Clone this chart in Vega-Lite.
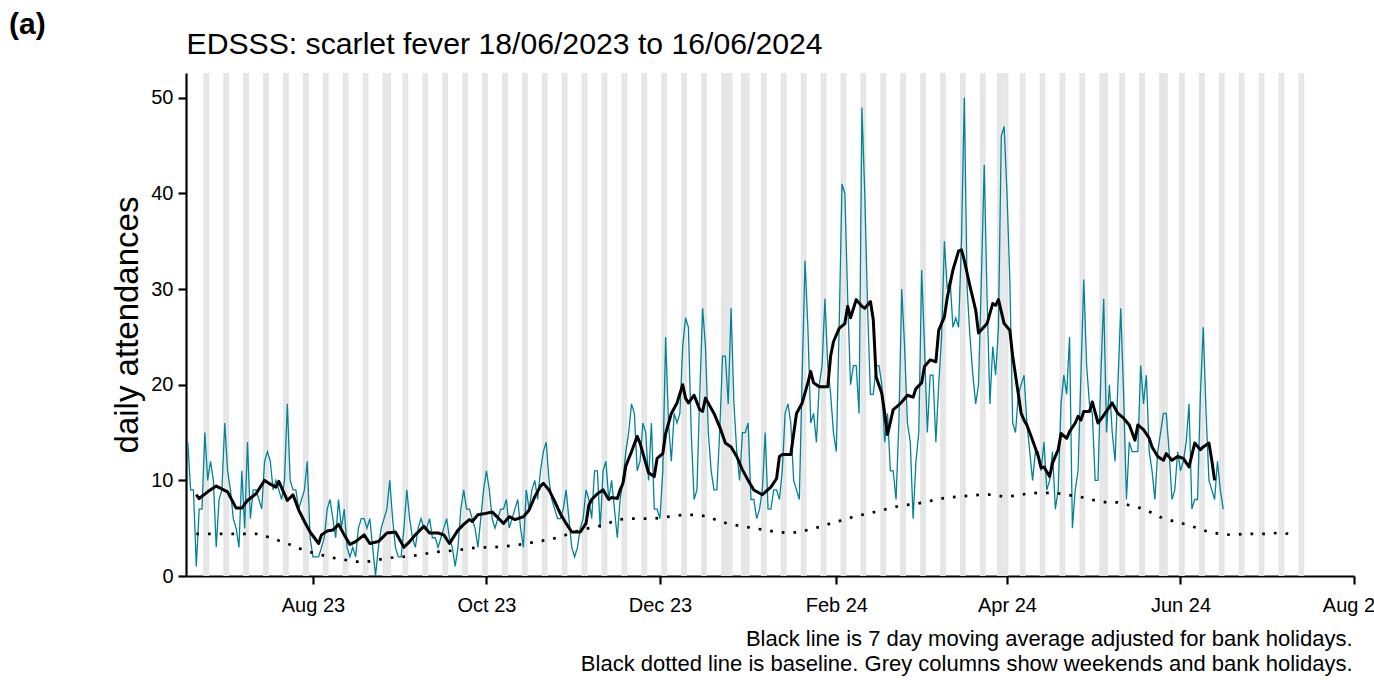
{
  "$schema": "https://vega.github.io/schema/vega-lite/v6.json",
  "width": 1168,
  "height": 503,
  "autosize": {"type": "none"},
  "padding": {"left": 186, "top": 73, "right": 20, "bottom": 104},
  "background": "white",
  "config": {
    "view": {"stroke": null},
    "font": "Liberation Sans",
    "axis": {"grid": false, "labelFont": "Liberation Sans", "titleFont": "Liberation Sans"}
  },
  "title": {
    "text": "(a)",
    "anchor": "start",
    "frame": "group",
    "font": "Liberation Sans",
    "fontSize": 30,
    "fontWeight": "bold",
    "color": "black",
    "baseline": "alphabetic",
    "dx": -177,
    "offset": -35
  },
  "datasets": {
    "raw": [
      {"date": "2023-06-18", "n": 14}, {"date": "2023-06-19", "n": 9}, {"date": "2023-06-20", "n": 9}, {"date": "2023-06-21", "n": 1}, {"date": "2023-06-22", "n": 7}, {"date": "2023-06-23", "n": 7}, {"date": "2023-06-24", "n": 15}, {"date": "2023-06-25", "n": 10}, {"date": "2023-06-26", "n": 12}, {"date": "2023-06-27", "n": 10}, {"date": "2023-06-28", "n": 3}, {"date": "2023-06-29", "n": 8}, {"date": "2023-06-30", "n": 9},
      {"date": "2023-07-01", "n": 16}, {"date": "2023-07-02", "n": 11}, {"date": "2023-07-03", "n": 9}, {"date": "2023-07-04", "n": 6}, {"date": "2023-07-05", "n": 5}, {"date": "2023-07-06", "n": 3}, {"date": "2023-07-07", "n": 11}, {"date": "2023-07-08", "n": 5}, {"date": "2023-07-09", "n": 14}, {"date": "2023-07-10", "n": 6}, {"date": "2023-07-11", "n": 9}, {"date": "2023-07-12", "n": 9}, {"date": "2023-07-13", "n": 8}, {"date": "2023-07-14", "n": 7}, {"date": "2023-07-15", "n": 12}, {"date": "2023-07-16", "n": 13}, {"date": "2023-07-17", "n": 12}, {"date": "2023-07-18", "n": 9}, {"date": "2023-07-19", "n": 10}, {"date": "2023-07-20", "n": 9}, {"date": "2023-07-21", "n": 8}, {"date": "2023-07-22", "n": 10}, {"date": "2023-07-23", "n": 18}, {"date": "2023-07-24", "n": 10}, {"date": "2023-07-25", "n": 9}, {"date": "2023-07-26", "n": 9}, {"date": "2023-07-27", "n": 7}, {"date": "2023-07-28", "n": 8}, {"date": "2023-07-29", "n": 9}, {"date": "2023-07-30", "n": 12}, {"date": "2023-07-31", "n": 4},
      {"date": "2023-08-01", "n": 2}, {"date": "2023-08-02", "n": 2}, {"date": "2023-08-03", "n": 2}, {"date": "2023-08-04", "n": 3}, {"date": "2023-08-05", "n": 4}, {"date": "2023-08-06", "n": 7}, {"date": "2023-08-07", "n": 8}, {"date": "2023-08-08", "n": 6}, {"date": "2023-08-09", "n": 4}, {"date": "2023-08-10", "n": 8}, {"date": "2023-08-11", "n": 5}, {"date": "2023-08-12", "n": 7}, {"date": "2023-08-13", "n": 3}, {"date": "2023-08-14", "n": 2}, {"date": "2023-08-15", "n": 3}, {"date": "2023-08-16", "n": 2}, {"date": "2023-08-17", "n": 5}, {"date": "2023-08-18", "n": 6}, {"date": "2023-08-19", "n": 6}, {"date": "2023-08-20", "n": 5}, {"date": "2023-08-21", "n": 6}, {"date": "2023-08-22", "n": 3}, {"date": "2023-08-23", "n": 0}, {"date": "2023-08-24", "n": 3}, {"date": "2023-08-25", "n": 5}, {"date": "2023-08-26", "n": 6}, {"date": "2023-08-27", "n": 7}, {"date": "2023-08-28", "n": 10}, {"date": "2023-08-29", "n": 6}, {"date": "2023-08-30", "n": 3}, {"date": "2023-08-31", "n": 2},
      {"date": "2023-09-01", "n": 2}, {"date": "2023-09-02", "n": 5}, {"date": "2023-09-03", "n": 9}, {"date": "2023-09-04", "n": 6}, {"date": "2023-09-05", "n": 4}, {"date": "2023-09-06", "n": 3}, {"date": "2023-09-07", "n": 5}, {"date": "2023-09-08", "n": 6}, {"date": "2023-09-09", "n": 5}, {"date": "2023-09-10", "n": 5}, {"date": "2023-09-11", "n": 6}, {"date": "2023-09-12", "n": 4}, {"date": "2023-09-13", "n": 4}, {"date": "2023-09-14", "n": 3}, {"date": "2023-09-15", "n": 4}, {"date": "2023-09-16", "n": 5}, {"date": "2023-09-17", "n": 6}, {"date": "2023-09-18", "n": 4}, {"date": "2023-09-19", "n": 3}, {"date": "2023-09-20", "n": 1}, {"date": "2023-09-21", "n": 3}, {"date": "2023-09-22", "n": 7}, {"date": "2023-09-23", "n": 9}, {"date": "2023-09-24", "n": 7}, {"date": "2023-09-25", "n": 7}, {"date": "2023-09-26", "n": 6}, {"date": "2023-09-27", "n": 5}, {"date": "2023-09-28", "n": 3}, {"date": "2023-09-29", "n": 6}, {"date": "2023-09-30", "n": 9},
      {"date": "2023-10-01", "n": 11}, {"date": "2023-10-02", "n": 9}, {"date": "2023-10-03", "n": 6}, {"date": "2023-10-04", "n": 5}, {"date": "2023-10-05", "n": 6}, {"date": "2023-10-06", "n": 7}, {"date": "2023-10-07", "n": 7}, {"date": "2023-10-08", "n": 8}, {"date": "2023-10-09", "n": 5}, {"date": "2023-10-10", "n": 6}, {"date": "2023-10-11", "n": 7}, {"date": "2023-10-12", "n": 8}, {"date": "2023-10-13", "n": 5}, {"date": "2023-10-14", "n": 3}, {"date": "2023-10-15", "n": 9}, {"date": "2023-10-16", "n": 7}, {"date": "2023-10-17", "n": 9}, {"date": "2023-10-18", "n": 10}, {"date": "2023-10-19", "n": 8}, {"date": "2023-10-20", "n": 11}, {"date": "2023-10-21", "n": 13}, {"date": "2023-10-22", "n": 14}, {"date": "2023-10-23", "n": 10}, {"date": "2023-10-24", "n": 8}, {"date": "2023-10-25", "n": 7}, {"date": "2023-10-26", "n": 6}, {"date": "2023-10-27", "n": 6}, {"date": "2023-10-28", "n": 7}, {"date": "2023-10-29", "n": 9}, {"date": "2023-10-30", "n": 6}, {"date": "2023-10-31", "n": 3},
      {"date": "2023-11-01", "n": 2}, {"date": "2023-11-02", "n": 3}, {"date": "2023-11-03", "n": 5}, {"date": "2023-11-04", "n": 6}, {"date": "2023-11-05", "n": 9}, {"date": "2023-11-06", "n": 8}, {"date": "2023-11-07", "n": 6}, {"date": "2023-11-08", "n": 11}, {"date": "2023-11-09", "n": 11}, {"date": "2023-11-10", "n": 5}, {"date": "2023-11-11", "n": 11}, {"date": "2023-11-12", "n": 12}, {"date": "2023-11-13", "n": 8}, {"date": "2023-11-14", "n": 10}, {"date": "2023-11-15", "n": 7}, {"date": "2023-11-16", "n": 4}, {"date": "2023-11-17", "n": 8}, {"date": "2023-11-18", "n": 10}, {"date": "2023-11-19", "n": 13}, {"date": "2023-11-20", "n": 15}, {"date": "2023-11-21", "n": 18}, {"date": "2023-11-22", "n": 17}, {"date": "2023-11-23", "n": 11}, {"date": "2023-11-24", "n": 12}, {"date": "2023-11-25", "n": 16}, {"date": "2023-11-26", "n": 15}, {"date": "2023-11-27", "n": 10}, {"date": "2023-11-28", "n": 16}, {"date": "2023-11-29", "n": 7}, {"date": "2023-11-30", "n": 7},
      {"date": "2023-12-01", "n": 6}, {"date": "2023-12-02", "n": 11}, {"date": "2023-12-03", "n": 25}, {"date": "2023-12-04", "n": 16}, {"date": "2023-12-05", "n": 12}, {"date": "2023-12-06", "n": 17}, {"date": "2023-12-07", "n": 16}, {"date": "2023-12-08", "n": 17}, {"date": "2023-12-09", "n": 24}, {"date": "2023-12-10", "n": 27}, {"date": "2023-12-11", "n": 26}, {"date": "2023-12-12", "n": 15}, {"date": "2023-12-13", "n": 8}, {"date": "2023-12-14", "n": 9}, {"date": "2023-12-15", "n": 19}, {"date": "2023-12-16", "n": 28}, {"date": "2023-12-17", "n": 24}, {"date": "2023-12-18", "n": 15}, {"date": "2023-12-19", "n": 11}, {"date": "2023-12-20", "n": 9}, {"date": "2023-12-21", "n": 9}, {"date": "2023-12-22", "n": 15}, {"date": "2023-12-23", "n": 23}, {"date": "2023-12-24", "n": 23}, {"date": "2023-12-25", "n": 18}, {"date": "2023-12-26", "n": 28}, {"date": "2023-12-27", "n": 18}, {"date": "2023-12-28", "n": 13}, {"date": "2023-12-29", "n": 10}, {"date": "2023-12-30", "n": 15}, {"date": "2023-12-31", "n": 15},
      {"date": "2024-01-01", "n": 16}, {"date": "2024-01-02", "n": 8}, {"date": "2024-01-03", "n": 8}, {"date": "2024-01-04", "n": 6}, {"date": "2024-01-05", "n": 7}, {"date": "2024-01-06", "n": 9}, {"date": "2024-01-07", "n": 15}, {"date": "2024-01-08", "n": 7}, {"date": "2024-01-09", "n": 7}, {"date": "2024-01-10", "n": 9}, {"date": "2024-01-11", "n": 9}, {"date": "2024-01-12", "n": 8}, {"date": "2024-01-13", "n": 11}, {"date": "2024-01-14", "n": 17}, {"date": "2024-01-15", "n": 18}, {"date": "2024-01-16", "n": 16}, {"date": "2024-01-17", "n": 10}, {"date": "2024-01-18", "n": 9}, {"date": "2024-01-19", "n": 8}, {"date": "2024-01-20", "n": 21}, {"date": "2024-01-21", "n": 33}, {"date": "2024-01-22", "n": 26}, {"date": "2024-01-23", "n": 16}, {"date": "2024-01-24", "n": 17}, {"date": "2024-01-25", "n": 14}, {"date": "2024-01-26", "n": 20}, {"date": "2024-01-27", "n": 22}, {"date": "2024-01-28", "n": 29}, {"date": "2024-01-29", "n": 22}, {"date": "2024-01-30", "n": 19}, {"date": "2024-01-31", "n": 15},
      {"date": "2024-02-01", "n": 13}, {"date": "2024-02-02", "n": 26}, {"date": "2024-02-03", "n": 41}, {"date": "2024-02-04", "n": 40}, {"date": "2024-02-05", "n": 29}, {"date": "2024-02-06", "n": 20}, {"date": "2024-02-07", "n": 22}, {"date": "2024-02-08", "n": 22}, {"date": "2024-02-09", "n": 17}, {"date": "2024-02-10", "n": 49}, {"date": "2024-02-11", "n": 40}, {"date": "2024-02-12", "n": 28}, {"date": "2024-02-13", "n": 19}, {"date": "2024-02-14", "n": 19}, {"date": "2024-02-15", "n": 22}, {"date": "2024-02-16", "n": 22}, {"date": "2024-02-17", "n": 20}, {"date": "2024-02-18", "n": 14}, {"date": "2024-02-19", "n": 17}, {"date": "2024-02-20", "n": 11}, {"date": "2024-02-21", "n": 11}, {"date": "2024-02-22", "n": 8}, {"date": "2024-02-23", "n": 16}, {"date": "2024-02-24", "n": 30}, {"date": "2024-02-25", "n": 24}, {"date": "2024-02-26", "n": 16}, {"date": "2024-02-27", "n": 14}, {"date": "2024-02-28", "n": 6}, {"date": "2024-02-29", "n": 12},
      {"date": "2024-03-01", "n": 15}, {"date": "2024-03-02", "n": 32}, {"date": "2024-03-03", "n": 24}, {"date": "2024-03-04", "n": 15}, {"date": "2024-03-05", "n": 21}, {"date": "2024-03-06", "n": 21}, {"date": "2024-03-07", "n": 14}, {"date": "2024-03-08", "n": 20}, {"date": "2024-03-09", "n": 25}, {"date": "2024-03-10", "n": 35}, {"date": "2024-03-11", "n": 30}, {"date": "2024-03-12", "n": 31}, {"date": "2024-03-13", "n": 26}, {"date": "2024-03-14", "n": 27}, {"date": "2024-03-15", "n": 26}, {"date": "2024-03-16", "n": 35}, {"date": "2024-03-17", "n": 50}, {"date": "2024-03-18", "n": 30}, {"date": "2024-03-19", "n": 25}, {"date": "2024-03-20", "n": 21}, {"date": "2024-03-21", "n": 18}, {"date": "2024-03-22", "n": 20}, {"date": "2024-03-23", "n": 31}, {"date": "2024-03-24", "n": 43}, {"date": "2024-03-25", "n": 29}, {"date": "2024-03-26", "n": 18}, {"date": "2024-03-27", "n": 24}, {"date": "2024-03-28", "n": 21}, {"date": "2024-03-29", "n": 26}, {"date": "2024-03-30", "n": 46}, {"date": "2024-03-31", "n": 47},
      {"date": "2024-04-01", "n": 40}, {"date": "2024-04-02", "n": 31}, {"date": "2024-04-03", "n": 16}, {"date": "2024-04-04", "n": 15}, {"date": "2024-04-05", "n": 19}, {"date": "2024-04-06", "n": 20}, {"date": "2024-04-07", "n": 21}, {"date": "2024-04-08", "n": 16}, {"date": "2024-04-09", "n": 13}, {"date": "2024-04-10", "n": 10}, {"date": "2024-04-11", "n": 13}, {"date": "2024-04-12", "n": 13}, {"date": "2024-04-13", "n": 11}, {"date": "2024-04-14", "n": 14}, {"date": "2024-04-15", "n": 9}, {"date": "2024-04-16", "n": 10}, {"date": "2024-04-17", "n": 13}, {"date": "2024-04-18", "n": 7}, {"date": "2024-04-19", "n": 9}, {"date": "2024-04-20", "n": 18}, {"date": "2024-04-21", "n": 21}, {"date": "2024-04-22", "n": 19}, {"date": "2024-04-23", "n": 25}, {"date": "2024-04-24", "n": 5}, {"date": "2024-04-25", "n": 9}, {"date": "2024-04-26", "n": 11}, {"date": "2024-04-27", "n": 21}, {"date": "2024-04-28", "n": 31}, {"date": "2024-04-29", "n": 22}, {"date": "2024-04-30", "n": 18},
      {"date": "2024-05-01", "n": 17}, {"date": "2024-05-02", "n": 10}, {"date": "2024-05-03", "n": 10}, {"date": "2024-05-04", "n": 21}, {"date": "2024-05-05", "n": 29}, {"date": "2024-05-06", "n": 15}, {"date": "2024-05-07", "n": 20}, {"date": "2024-05-08", "n": 15}, {"date": "2024-05-09", "n": 12}, {"date": "2024-05-10", "n": 20}, {"date": "2024-05-11", "n": 28}, {"date": "2024-05-12", "n": 19}, {"date": "2024-05-13", "n": 8}, {"date": "2024-05-14", "n": 14}, {"date": "2024-05-15", "n": 13}, {"date": "2024-05-16", "n": 13}, {"date": "2024-05-17", "n": 13}, {"date": "2024-05-18", "n": 22}, {"date": "2024-05-19", "n": 18}, {"date": "2024-05-20", "n": 21}, {"date": "2024-05-21", "n": 13}, {"date": "2024-05-22", "n": 11}, {"date": "2024-05-23", "n": 8}, {"date": "2024-05-24", "n": 13}, {"date": "2024-05-25", "n": 15}, {"date": "2024-05-26", "n": 17}, {"date": "2024-05-27", "n": 17}, {"date": "2024-05-28", "n": 13}, {"date": "2024-05-29", "n": 8}, {"date": "2024-05-30", "n": 9}, {"date": "2024-05-31", "n": 13},
      {"date": "2024-06-01", "n": 11}, {"date": "2024-06-02", "n": 12}, {"date": "2024-06-03", "n": 14}, {"date": "2024-06-04", "n": 18}, {"date": "2024-06-05", "n": 7}, {"date": "2024-06-06", "n": 8}, {"date": "2024-06-07", "n": 8}, {"date": "2024-06-08", "n": 19}, {"date": "2024-06-09", "n": 26}, {"date": "2024-06-10", "n": 17}, {"date": "2024-06-11", "n": 10}, {"date": "2024-06-12", "n": 9}, {"date": "2024-06-13", "n": 8}, {"date": "2024-06-14", "n": 12}, {"date": "2024-06-15", "n": 9}, {"date": "2024-06-16", "n": 7}
    ],
    "ma": [
      {"date": "2023-06-21", "ma": 8.5}, {"date": "2023-06-22", "ma": 8.1}, {"date": "2023-06-25", "ma": 8.8}, {"date": "2023-06-28", "ma": 9.4}, {"date": "2023-07-02", "ma": 8.8}, {"date": "2023-07-05", "ma": 7.1}, {"date": "2023-07-07", "ma": 7.1}, {"date": "2023-07-09", "ma": 7.9}, {"date": "2023-07-12", "ma": 8.6}, {"date": "2023-07-15", "ma": 10.0}, {"date": "2023-07-17", "ma": 9.6}, {"date": "2023-07-19", "ma": 9.3}, {"date": "2023-07-20", "ma": 9.9}, {"date": "2023-07-23", "ma": 7.9}, {"date": "2023-07-25", "ma": 8.5}, {"date": "2023-07-27", "ma": 6.9}, {"date": "2023-07-29", "ma": 5.7}, {"date": "2023-07-31", "ma": 4.6},
      {"date": "2023-08-03", "ma": 3.4}, {"date": "2023-08-04", "ma": 4.3}, {"date": "2023-08-06", "ma": 4.7}, {"date": "2023-08-08", "ma": 4.8}, {"date": "2023-08-10", "ma": 5.4}, {"date": "2023-08-12", "ma": 4.3}, {"date": "2023-08-14", "ma": 3.3}, {"date": "2023-08-16", "ma": 3.6}, {"date": "2023-08-19", "ma": 4.3}, {"date": "2023-08-21", "ma": 3.4}, {"date": "2023-08-24", "ma": 3.6}, {"date": "2023-08-27", "ma": 4.5}, {"date": "2023-08-30", "ma": 4.6},
      {"date": "2023-09-02", "ma": 3.0}, {"date": "2023-09-04", "ma": 3.6}, {"date": "2023-09-06", "ma": 4.3}, {"date": "2023-09-09", "ma": 5.2}, {"date": "2023-09-11", "ma": 4.5}, {"date": "2023-09-14", "ma": 4.5}, {"date": "2023-09-16", "ma": 4.3}, {"date": "2023-09-18", "ma": 3.4}, {"date": "2023-09-21", "ma": 4.8}, {"date": "2023-09-23", "ma": 5.4}, {"date": "2023-09-25", "ma": 5.9}, {"date": "2023-09-26", "ma": 5.7}, {"date": "2023-09-28", "ma": 6.4}, {"date": "2023-09-30", "ma": 6.5},
      {"date": "2023-10-03", "ma": 6.7}, {"date": "2023-10-07", "ma": 5.5}, {"date": "2023-10-09", "ma": 6.2}, {"date": "2023-10-11", "ma": 5.9}, {"date": "2023-10-14", "ma": 6.2}, {"date": "2023-10-16", "ma": 6.9}, {"date": "2023-10-18", "ma": 8.3}, {"date": "2023-10-20", "ma": 9.4}, {"date": "2023-10-21", "ma": 9.7}, {"date": "2023-10-23", "ma": 9.0}, {"date": "2023-10-25", "ma": 7.8}, {"date": "2023-10-27", "ma": 6.5}, {"date": "2023-10-29", "ma": 5.5}, {"date": "2023-10-31", "ma": 4.6},
      {"date": "2023-11-03", "ma": 4.6}, {"date": "2023-11-05", "ma": 5.5}, {"date": "2023-11-06", "ma": 7.4}, {"date": "2023-11-07", "ma": 8.0}, {"date": "2023-11-09", "ma": 8.6}, {"date": "2023-11-11", "ma": 9.0}, {"date": "2023-11-13", "ma": 8.0}, {"date": "2023-11-14", "ma": 8.2}, {"date": "2023-11-16", "ma": 8.1}, {"date": "2023-11-17", "ma": 9.0}, {"date": "2023-11-18", "ma": 9.7}, {"date": "2023-11-19", "ma": 11.5}, {"date": "2023-11-21", "ma": 13.0}, {"date": "2023-11-23", "ma": 14.6}, {"date": "2023-11-24", "ma": 13.9}, {"date": "2023-11-26", "ma": 11.8}, {"date": "2023-11-27", "ma": 10.8}, {"date": "2023-11-29", "ma": 10.4}, {"date": "2023-11-30", "ma": 12.3},
      {"date": "2023-12-02", "ma": 12.8}, {"date": "2023-12-03", "ma": 14.9}, {"date": "2023-12-05", "ma": 17.0}, {"date": "2023-12-07", "ma": 18.1}, {"date": "2023-12-09", "ma": 20.0}, {"date": "2023-12-10", "ma": 18.6}, {"date": "2023-12-11", "ma": 18.1}, {"date": "2023-12-13", "ma": 18.9}, {"date": "2023-12-15", "ma": 17.4}, {"date": "2023-12-16", "ma": 17.2}, {"date": "2023-12-17", "ma": 18.6}, {"date": "2023-12-20", "ma": 17.0}, {"date": "2023-12-22", "ma": 15.6}, {"date": "2023-12-24", "ma": 13.9}, {"date": "2023-12-26", "ma": 13.5}, {"date": "2023-12-28", "ma": 12.5}, {"date": "2023-12-30", "ma": 11.1},
      {"date": "2024-01-01", "ma": 10.0}, {"date": "2024-01-03", "ma": 9.0}, {"date": "2024-01-06", "ma": 8.5}, {"date": "2024-01-09", "ma": 9.3}, {"date": "2024-01-11", "ma": 10.2}, {"date": "2024-01-12", "ma": 12.5}, {"date": "2024-01-13", "ma": 12.7}, {"date": "2024-01-16", "ma": 12.7}, {"date": "2024-01-18", "ma": 17.0}, {"date": "2024-01-20", "ma": 18.1}, {"date": "2024-01-22", "ma": 20.2}, {"date": "2024-01-23", "ma": 21.4}, {"date": "2024-01-24", "ma": 20.2}, {"date": "2024-01-26", "ma": 19.8}, {"date": "2024-01-29", "ma": 19.8}, {"date": "2024-01-30", "ma": 23.0}, {"date": "2024-01-31", "ma": 24.5},
      {"date": "2024-02-02", "ma": 25.9}, {"date": "2024-02-04", "ma": 26.4}, {"date": "2024-02-05", "ma": 28.2}, {"date": "2024-02-06", "ma": 27.0}, {"date": "2024-02-08", "ma": 28.9}, {"date": "2024-02-10", "ma": 28.2}, {"date": "2024-02-11", "ma": 28.0}, {"date": "2024-02-13", "ma": 28.7}, {"date": "2024-02-14", "ma": 26.8}, {"date": "2024-02-15", "ma": 20.8}, {"date": "2024-02-17", "ma": 19.1}, {"date": "2024-02-18", "ma": 17.0}, {"date": "2024-02-19", "ma": 14.8}, {"date": "2024-02-21", "ma": 17.4}, {"date": "2024-02-23", "ma": 17.9}, {"date": "2024-02-24", "ma": 18.2}, {"date": "2024-02-26", "ma": 18.9}, {"date": "2024-02-28", "ma": 18.7}, {"date": "2024-02-29", "ma": 19.6},
      {"date": "2024-03-02", "ma": 20.2}, {"date": "2024-03-03", "ma": 21.9}, {"date": "2024-03-05", "ma": 22.6}, {"date": "2024-03-07", "ma": 22.4}, {"date": "2024-03-08", "ma": 25.7}, {"date": "2024-03-10", "ma": 27.1}, {"date": "2024-03-11", "ma": 29.1}, {"date": "2024-03-13", "ma": 32.0}, {"date": "2024-03-15", "ma": 34.0}, {"date": "2024-03-16", "ma": 34.1}, {"date": "2024-03-17", "ma": 33.0}, {"date": "2024-03-19", "ma": 30.3}, {"date": "2024-03-21", "ma": 27.8}, {"date": "2024-03-22", "ma": 25.4}, {"date": "2024-03-25", "ma": 26.4}, {"date": "2024-03-27", "ma": 28.5}, {"date": "2024-03-28", "ma": 28.3}, {"date": "2024-03-29", "ma": 28.9}, {"date": "2024-03-31", "ma": 26.4},
      {"date": "2024-04-02", "ma": 25.7}, {"date": "2024-04-03", "ma": 23.0}, {"date": "2024-04-05", "ma": 19.0}, {"date": "2024-04-06", "ma": 17.0}, {"date": "2024-04-07", "ma": 16.3}, {"date": "2024-04-08", "ma": 15.8}, {"date": "2024-04-10", "ma": 14.2}, {"date": "2024-04-12", "ma": 12.5}, {"date": "2024-04-13", "ma": 11.3}, {"date": "2024-04-14", "ma": 11.4}, {"date": "2024-04-16", "ma": 10.4}, {"date": "2024-04-17", "ma": 11.8}, {"date": "2024-04-19", "ma": 13.2}, {"date": "2024-04-20", "ma": 14.9}, {"date": "2024-04-22", "ma": 14.4}, {"date": "2024-04-23", "ma": 15.1}, {"date": "2024-04-25", "ma": 16.0}, {"date": "2024-04-26", "ma": 16.7}, {"date": "2024-04-27", "ma": 16.3}, {"date": "2024-04-28", "ma": 17.2}, {"date": "2024-04-30", "ma": 17.2},
      {"date": "2024-05-01", "ma": 18.2}, {"date": "2024-05-03", "ma": 16.0}, {"date": "2024-05-05", "ma": 16.8}, {"date": "2024-05-08", "ma": 18.1}, {"date": "2024-05-10", "ma": 17.0}, {"date": "2024-05-12", "ma": 16.5}, {"date": "2024-05-14", "ma": 15.8}, {"date": "2024-05-16", "ma": 14.2}, {"date": "2024-05-17", "ma": 15.8}, {"date": "2024-05-19", "ma": 15.3}, {"date": "2024-05-21", "ma": 14.4}, {"date": "2024-05-22", "ma": 13.5}, {"date": "2024-05-24", "ma": 12.5}, {"date": "2024-05-26", "ma": 12.1}, {"date": "2024-05-27", "ma": 12.8}, {"date": "2024-05-29", "ma": 12.1}, {"date": "2024-05-31", "ma": 12.5},
      {"date": "2024-06-02", "ma": 12.3}, {"date": "2024-06-04", "ma": 11.4}, {"date": "2024-06-06", "ma": 13.9}, {"date": "2024-06-08", "ma": 13.2}, {"date": "2024-06-09", "ma": 13.5}, {"date": "2024-06-11", "ma": 13.9}, {"date": "2024-06-12", "ma": 12.1}, {"date": "2024-06-13", "ma": 10.0}
    ],
    "base": [
      {"date": "2023-06-21", "b": 4.4}, {"date": "2023-07-13", "b": 4.4}, {"date": "2023-07-19", "b": 3.8}, {"date": "2023-07-23", "b": 3.4}, {"date": "2023-07-27", "b": 2.9}, {"date": "2023-07-31", "b": 2.5},
      {"date": "2023-08-04", "b": 2.2}, {"date": "2023-08-08", "b": 1.9}, {"date": "2023-08-12", "b": 1.7}, {"date": "2023-08-16", "b": 1.5}, {"date": "2023-08-20", "b": 1.5}, {"date": "2023-08-24", "b": 1.7}, {"date": "2023-08-28", "b": 1.9},
      {"date": "2023-09-01", "b": 2.0}, {"date": "2023-09-05", "b": 2.1}, {"date": "2023-09-09", "b": 2.3}, {"date": "2023-09-13", "b": 2.5}, {"date": "2023-09-17", "b": 2.6}, {"date": "2023-09-21", "b": 2.7}, {"date": "2023-09-25", "b": 2.9}, {"date": "2023-09-29", "b": 3.0},
      {"date": "2023-10-03", "b": 3.0}, {"date": "2023-10-07", "b": 3.1}, {"date": "2023-10-11", "b": 3.2}, {"date": "2023-10-15", "b": 3.4}, {"date": "2023-10-19", "b": 3.6}, {"date": "2023-10-23", "b": 3.8}, {"date": "2023-10-27", "b": 4.1}, {"date": "2023-10-31", "b": 4.5},
      {"date": "2023-11-04", "b": 4.9}, {"date": "2023-11-08", "b": 5.1}, {"date": "2023-11-12", "b": 5.4}, {"date": "2023-11-16", "b": 5.9}, {"date": "2023-11-20", "b": 6.0}, {"date": "2023-11-24", "b": 6.0}, {"date": "2023-11-28", "b": 6.0},
      {"date": "2023-12-02", "b": 6.1}, {"date": "2023-12-06", "b": 6.3}, {"date": "2023-12-10", "b": 6.4}, {"date": "2023-12-14", "b": 6.4}, {"date": "2023-12-18", "b": 6.2}, {"date": "2023-12-22", "b": 5.7}, {"date": "2023-12-26", "b": 5.4}, {"date": "2023-12-30", "b": 5.2},
      {"date": "2024-01-03", "b": 5.0}, {"date": "2024-01-07", "b": 4.8}, {"date": "2024-01-11", "b": 4.6}, {"date": "2024-01-15", "b": 4.5}, {"date": "2024-01-19", "b": 4.6}, {"date": "2024-01-23", "b": 4.9}, {"date": "2024-01-27", "b": 5.2}, {"date": "2024-01-31", "b": 5.6},
      {"date": "2024-02-04", "b": 5.9}, {"date": "2024-02-08", "b": 6.3}, {"date": "2024-02-12", "b": 6.5}, {"date": "2024-02-16", "b": 6.8}, {"date": "2024-02-20", "b": 7.1}, {"date": "2024-02-24", "b": 7.4}, {"date": "2024-02-28", "b": 7.5},
      {"date": "2024-03-03", "b": 7.7}, {"date": "2024-03-07", "b": 8.0}, {"date": "2024-03-11", "b": 8.2}, {"date": "2024-03-15", "b": 8.3}, {"date": "2024-03-19", "b": 8.4}, {"date": "2024-03-23", "b": 8.5}, {"date": "2024-03-27", "b": 8.5}, {"date": "2024-03-31", "b": 8.3},
      {"date": "2024-04-04", "b": 8.4}, {"date": "2024-04-08", "b": 8.6}, {"date": "2024-04-12", "b": 8.7}, {"date": "2024-04-16", "b": 8.7}, {"date": "2024-04-20", "b": 8.6}, {"date": "2024-04-24", "b": 8.4}, {"date": "2024-04-28", "b": 8.2},
      {"date": "2024-05-02", "b": 7.9}, {"date": "2024-05-06", "b": 7.7}, {"date": "2024-05-10", "b": 7.7}, {"date": "2024-05-14", "b": 7.4}, {"date": "2024-05-18", "b": 7.1}, {"date": "2024-05-22", "b": 6.6}, {"date": "2024-05-26", "b": 6.0}, {"date": "2024-05-30", "b": 5.7},
      {"date": "2024-06-03", "b": 5.4}, {"date": "2024-06-07", "b": 5.0}, {"date": "2024-06-11", "b": 4.6}, {"date": "2024-06-15", "b": 4.4}, {"date": "2024-06-19", "b": 4.3}, {"date": "2024-06-23", "b": 4.4}, {"date": "2024-06-27", "b": 4.4}, {"date": "2024-07-01", "b": 4.4}, {"date": "2024-07-05", "b": 4.5}, {"date": "2024-07-10", "b": 4.4}
    ],
    "grey": [
      {"day": "2023-06-24"}, {"day": "2023-06-25"}, {"day": "2023-07-01"}, {"day": "2023-07-02"}, {"day": "2023-07-08"}, {"day": "2023-07-09"}, {"day": "2023-07-15"}, {"day": "2023-07-16"}, {"day": "2023-07-22"}, {"day": "2023-07-23"}, {"day": "2023-07-29"}, {"day": "2023-07-30"},
      {"day": "2023-08-05"}, {"day": "2023-08-06"}, {"day": "2023-08-12"}, {"day": "2023-08-13"}, {"day": "2023-08-19"}, {"day": "2023-08-20"}, {"day": "2023-08-26"}, {"day": "2023-08-27"}, {"day": "2023-08-28"},
      {"day": "2023-09-02"}, {"day": "2023-09-03"}, {"day": "2023-09-09"}, {"day": "2023-09-10"}, {"day": "2023-09-16"}, {"day": "2023-09-17"}, {"day": "2023-09-23"}, {"day": "2023-09-24"}, {"day": "2023-09-30"},
      {"day": "2023-10-01"}, {"day": "2023-10-07"}, {"day": "2023-10-08"}, {"day": "2023-10-14"}, {"day": "2023-10-15"}, {"day": "2023-10-21"}, {"day": "2023-10-22"}, {"day": "2023-10-28"}, {"day": "2023-10-29"},
      {"day": "2023-11-04"}, {"day": "2023-11-05"}, {"day": "2023-11-11"}, {"day": "2023-11-12"}, {"day": "2023-11-18"}, {"day": "2023-11-19"}, {"day": "2023-11-25"}, {"day": "2023-11-26"},
      {"day": "2023-12-02"}, {"day": "2023-12-03"}, {"day": "2023-12-09"}, {"day": "2023-12-10"}, {"day": "2023-12-16"}, {"day": "2023-12-17"}, {"day": "2023-12-23"}, {"day": "2023-12-24"}, {"day": "2023-12-25"}, {"day": "2023-12-26"}, {"day": "2023-12-30"}, {"day": "2023-12-31"},
      {"day": "2024-01-01"}, {"day": "2024-01-06"}, {"day": "2024-01-07"}, {"day": "2024-01-13"}, {"day": "2024-01-14"}, {"day": "2024-01-20"}, {"day": "2024-01-21"}, {"day": "2024-01-27"}, {"day": "2024-01-28"},
      {"day": "2024-02-03"}, {"day": "2024-02-04"}, {"day": "2024-02-10"}, {"day": "2024-02-11"}, {"day": "2024-02-17"}, {"day": "2024-02-18"}, {"day": "2024-02-24"}, {"day": "2024-02-25"},
      {"day": "2024-03-02"}, {"day": "2024-03-03"}, {"day": "2024-03-09"}, {"day": "2024-03-10"}, {"day": "2024-03-16"}, {"day": "2024-03-17"}, {"day": "2024-03-23"}, {"day": "2024-03-24"}, {"day": "2024-03-29"}, {"day": "2024-03-30"}, {"day": "2024-03-31"},
      {"day": "2024-04-01"}, {"day": "2024-04-06"}, {"day": "2024-04-07"}, {"day": "2024-04-13"}, {"day": "2024-04-14"}, {"day": "2024-04-20"}, {"day": "2024-04-21"}, {"day": "2024-04-27"}, {"day": "2024-04-28"},
      {"day": "2024-05-04"}, {"day": "2024-05-05"}, {"day": "2024-05-06"}, {"day": "2024-05-11"}, {"day": "2024-05-12"}, {"day": "2024-05-18"}, {"day": "2024-05-19"}, {"day": "2024-05-25"}, {"day": "2024-05-26"}, {"day": "2024-05-27"},
      {"day": "2024-06-01"}, {"day": "2024-06-02"}, {"day": "2024-06-08"}, {"day": "2024-06-09"}, {"day": "2024-06-15"}, {"day": "2024-06-16"}, {"day": "2024-06-22"}, {"day": "2024-06-23"}, {"day": "2024-06-29"}, {"day": "2024-06-30"},
      {"day": "2024-07-06"}, {"day": "2024-07-07"}, {"day": "2024-07-13"}, {"day": "2024-07-14"}
    ]
  },
  "resolve": {"axis": {"x": "independent"}},
  "layer": [
    {
      "data": {"name": "grey"},
      "mark": {"type": "rule", "color": "#e5e5e5", "strokeWidth": 2.9, "strokeCap": "butt"},
      "encoding": {
        "x": {
          "field": "day",
          "type": "temporal",
          "scale": {
            "type": "utc",
            "domain": [
              {"year": 2023, "month": 6, "date": 17, "hours": 9, "utc": true},
              {"year": 2024, "month": 8, "date": 1, "utc": true}
            ]
          },
          "axis": {
            "orient": "bottom",
            "values": [
              {"year": 2023, "month": 8, "date": 1, "utc": true},
              {"year": 2023, "month": 10, "date": 1, "utc": true},
              {"year": 2023, "month": 12, "date": 1, "utc": true},
              {"year": 2024, "month": 2, "date": 1, "utc": true},
              {"year": 2024, "month": 4, "date": 1, "utc": true},
              {"year": 2024, "month": 6, "date": 1, "utc": true},
              {"year": 2024, "month": 8, "date": 1, "utc": true}
            ],
            "labelExpr": "utcFormat(datum.value, '%b %y')",
            "labelFlush": false,
            "labelFontSize": 20,
            "labelColor": "black",
            "labelPadding": 11,
            "tickSize": 8,
            "tickWidth": 2.2,
            "tickColor": "black",
            "domainColor": "black",
            "domainWidth": 2.2,
            "title": ["Black line is 7 day moving average adjusted for bank holidays.", "Black dotted line is baseline. Grey columns show weekends and bank holidays."],
            "titleFontSize": 22,
            "titleFontWeight": "normal",
            "titleColor": "black",
            "titleAnchor": "end",
            "titleAlign": "right",
            "titleBaseline": "alphabetic",
            "titleX": 1166,
            "titleY": 69,
            "titleLineHeight": 25
          }
        }
      }
    },
    {
      "data": {"name": "raw"},
      "mark": {"type": "line", "color": "#00839a", "strokeWidth": 1.3},
      "encoding": {
        "x": {
          "field": "date",
          "type": "temporal",
          "axis": {
            "orient": "top",
            "domain": false,
            "ticks": false,
            "labels": false,
            "title": "EDSSS: scarlet fever 18/06/2023 to 16/06/2024",
            "titleFontSize": 30.2,
            "titleFontWeight": "normal",
            "titleColor": "black",
            "titleAnchor": "start",
            "titleAlign": "left",
            "titleBaseline": "alphabetic",
            "titleX": 0,
            "titleY": -20
          }
        },
        "y": {
          "field": "n",
          "type": "quantitative",
          "scale": {"domain": [0, 52.6], "nice": false, "zero": true},
          "axis": {
            "values": [0, 10, 20, 30, 40, 50],
            "labelFontSize": 20,
            "labelColor": "black",
            "labelPadding": 5,
            "labelFlush": false,
            "tickSize": 8,
            "tickWidth": 2.2,
            "tickColor": "black",
            "domainColor": "black",
            "domainWidth": 2.2,
            "title": "daily attendances",
            "titleFontSize": 33,
            "titleFontWeight": "normal",
            "titleColor": "black",
            "titleAngle": -90,
            "titleAlign": "center",
            "titleBaseline": "alphabetic",
            "titleX": -49,
            "titleY": 251.5
          }
        }
      }
    },
    {
      "data": {"name": "base"},
      "mark": {"type": "line", "color": "black", "strokeWidth": 2.7, "strokeDash": [2.7, 9], "strokeCap": "butt"},
      "encoding": {
        "x": {"field": "date", "type": "temporal", "axis": null},
        "y": {"field": "b", "type": "quantitative"}
      }
    },
    {
      "data": {"name": "ma"},
      "mark": {"type": "line", "color": "black", "strokeWidth": 3, "strokeJoin": "round"},
      "encoding": {
        "x": {"field": "date", "type": "temporal", "axis": null},
        "y": {"field": "ma", "type": "quantitative"}
      }
    }
  ]
}
